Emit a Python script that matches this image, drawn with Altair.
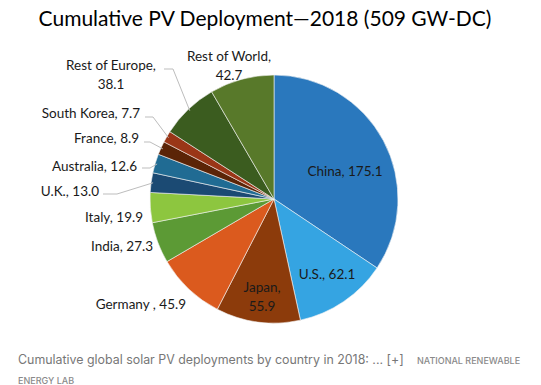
import altair as alt
import pandas as pd

# ---------------- data ----------------
countries = ["China", "U.S.", "Japan", "Germany ", "India", "Italy", "U.K.",
             "Australia", "France", "South Korea", "Rest of Europe", "Rest of World"]
values = [175.1, 62.1, 55.9, 45.9, 27.3, 19.9, 13.0, 12.6, 8.9, 7.7, 38.1, 42.7]

title_text = "Cumulative PV Deployment\u20142018 (509 GW-DC)"
caption_text = "Cumulative global solar PV deployments by country in 2018: ... [+]"
credit_1 = "NATIONAL RENEWABLE"
credit_2 = "ENERGY LAB"

# ---------------- styles / layout ----------------
colors = ["#2a78bd", "#35a4e2", "#8c3b0b", "#db5a1e", "#5c9a35", "#8dc63f",
          "#1b4a73", "#206b93", "#5b2407", "#9a3617", "#3b5c1f", "#58792a"]

W, H = 525, 377          # plot area (page minus 8px margin)
CX, CY, R = 266, 191, 124  # pie centre & radius inside plot area
FONT = "Lato"
OFF = 8  # page margin offset

# label anchors (page pixels): country -> (x, y, align, two_lines)
label_layout = {
    "China": (345, 172, "center", False),
    "U.S.": (327, 275, "center", False),
    "Japan": (262, 288, "center", True),
    "Germany ": (186, 305, "right", False),
    "India": (153, 247, "right", False),
    "Italy": (143, 218, "right", False),
    "U.K.": (99, 192, "right", False),
    "Australia": (137, 167, "right", False),
    "France": (139, 139, "right", False),
    "South Korea": (140, 114, "right", False),
    "Rest of Europe": (111, 66, "center", True),
    "Rest of World": (229, 57, "center", True),
}
# leader lines (page pixels): country -> (x_start, x_elbow, y)
leader_layout = {
    "Rest of Europe": (164, 173, 69),
    "South Korea": (145, 153, 117),
    "France": (144, 150, 142),
    "Australia": (142, 150, 168),
    "U.K.": (103, 117, 194),
}

# ---------------- tables ----------------
pie = pd.DataFrame({"country": countries, "value": values, "idx": list(range(len(countries)))})
pie["lx0"] = [leader_layout[c][0] - OFF if c in leader_layout else None for c in countries]
pie["lx1"] = [leader_layout[c][1] - OFF if c in leader_layout else None for c in countries]
pie["ly"] = [leader_layout[c][2] - OFF if c in leader_layout else None for c in countries]

rows = []
for c, v in zip(countries, values):
    x, y, align, two = label_layout[c]
    if two:
        rows.append({"text": f"{c},", "x": x - OFF, "y": y - OFF, "align": align})
        rows.append({"text": f"{v:.1f}", "x": x - OFF, "y": y - OFF + 19, "align": align})
    else:
        rows.append({"text": f"{c}, {v:.1f}", "x": x - OFF, "y": y - OFF, "align": align})
labels = pd.DataFrame(rows)

xs = alt.Scale(domain=[0, W], range=[0, W])
ys = alt.Scale(domain=[0, H], range=[0, H])

# ---------------- layers ----------------
arcs = alt.Chart(pie).mark_arc(
    x=CX, y=CY, outerRadius=R, stroke="#f4f4f4", strokeWidth=0.6
).encode(
    theta=alt.Theta("value:Q", stack=True),
    color=alt.Color("country:N", scale=alt.Scale(domain=countries, range=colors), legend=None),
    order=alt.Order("idx:Q"),
)

lead_base = alt.Chart(pie).transform_window(
    cum="sum(value)", sort=[alt.SortField("idx")], frame=[None, 0]
).transform_joinaggregate(
    total="sum(value)"
).transform_calculate(
    mid="2*PI*(datum.cum - datum.value/2)/datum.total",
    ex=f"{CX} + {R - 2}*sin(datum.mid)",
    ey=f"{CY} - {R - 2}*cos(datum.mid)",
).transform_filter("isValid(datum.lx0)")

lead_h = lead_base.mark_rule(color="#bdbdbd", strokeWidth=1).encode(
    x=alt.X("lx0:Q", scale=xs, axis=None),
    x2="lx1:Q",
    y=alt.Y("ly:Q", scale=ys, axis=None),
)
lead_d = lead_base.mark_rule(color="#bdbdbd", strokeWidth=1).encode(
    x=alt.X("lx1:Q", scale=xs, axis=None),
    y=alt.Y("ly:Q", scale=ys, axis=None),
    x2="ex:Q",
    y2="ey:Q",
)

def text_layer(align):
    return alt.Chart(labels).transform_filter(f"datum.align == '{align}'").mark_text(
        align=align, baseline="middle", font=FONT, fontSize=13.5, color="#1a1a1a"
    ).encode(
        x=alt.X("x:Q", scale=xs, axis=None),
        y=alt.Y("y:Q", scale=ys, axis=None),
        text="text:N",
    )

one = pd.DataFrame({"a": [0]})
title = alt.Chart(one).mark_text(
    align="center", baseline="top", font=FONT, fontSize=21, color="#000000"
).encode(x=alt.value(265 - OFF), y=alt.value(1), text=alt.value(title_text))

caption = alt.Chart(one).mark_text(
    align="left", baseline="middle", font="Inter", fontSize=12.4, color="#777777"
).encode(x=alt.value(18 - OFF), y=alt.value(360 - OFF), text=alt.value(caption_text))

cred1 = alt.Chart(one).mark_text(
    align="left", baseline="middle", font="Inter", fontSize=9, fontWeight=500, color="#8a8a8a"
).encode(x=alt.value(417 - OFF), y=alt.value(361 - OFF), text=alt.value(credit_1))

cred2 = alt.Chart(one).mark_text(
    align="left", baseline="middle", font="Inter", fontSize=9, fontWeight=500, color="#8a8a8a"
).encode(x=alt.value(18 - OFF), y=alt.value(381 - OFF), text=alt.value(credit_2))

chart = alt.layer(
    arcs, lead_h, lead_d, text_layer("center"), text_layer("right"),
    title, caption, cred1, cred2
).properties(
    width=W, height=H, autosize=alt.AutoSizeParams(type="none"), padding=0
).configure_view(stroke=None)

chart.save("out.html", embed_options={"renderer": "svg", "actions": False})
